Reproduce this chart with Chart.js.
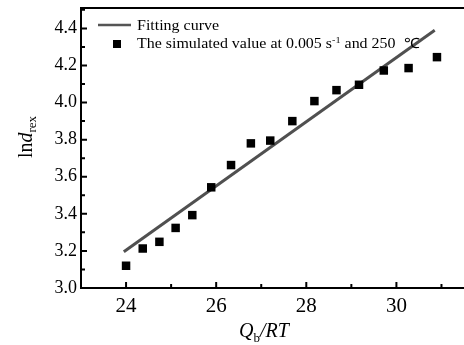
<!DOCTYPE html>
<html>
<head>
<meta charset="utf-8">
<script src="https://cdn.jsdelivr.net/npm/chart.js@4.4.0/dist/chart.umd.min.js"></script>
<style>
html, body { margin: 0; padding: 0; background: #fff; }
#wrap { width: 464px; height: 345px; position: relative; }
</style>
</head>
<body>
<div id="wrap"><canvas id="fitChart"></canvas></div>
<script>
// simulated points (Qb/RT , ln d_rex)
const simX = [24.0, 24.37, 24.74, 25.1, 25.47, 25.89, 26.33, 26.77, 27.2, 27.69, 28.18, 28.67, 29.17, 29.72, 30.27, 30.9];
const simY = [3.12, 3.213, 3.249, 3.324, 3.393, 3.543, 3.663, 3.78, 3.795, 3.90, 4.008, 4.067, 4.096, 4.173, 4.186, 4.245];
// fitting line end points
const fitX = [23.95, 30.85];
const fitY = [3.195, 4.39];
const xTicks = [24, 26, 28, 30];
const yTicks = [3.0, 3.2, 3.4, 3.6, 3.8, 4.0, 4.2, 4.4];
const xMinor = [23, 25, 27, 29, 31];
const yMinor = [3.1, 3.3, 3.5, 3.7, 3.9, 4.1, 4.3, 4.5];
const labels = ['Fitting curve', 'The simulated value at 0.005 s'];

const serif = "'Liberation Serif', 'Times New Roman', serif";

function drawRich(ctx, parts, x, y, align) {
  // parts: [text, font, dy]
  let total = 0;
  parts.forEach(p => { ctx.font = p[1]; total += ctx.measureText(p[0]).width; });
  let cx = align === 'center' ? x - total / 2 : x;
  parts.forEach(p => {
    ctx.font = p[1];
    ctx.fillText(p[0], cx, y + (p[2] || 0));
    cx += ctx.measureText(p[0]).width;
  });
}

const framePlugin = {
  id: 'frame',
  afterDraw(chart) {
    const ctx = chart.ctx;
    const a = chart.chartArea;
    const xs = chart.scales.x, ys = chart.scales.y;
    ctx.save();
    ctx.strokeStyle = '#000';
    ctx.lineWidth = 2;
    ctx.beginPath();
    ctx.moveTo(a.left, a.top); ctx.lineTo(a.right, a.top);
    ctx.moveTo(a.left, a.top - 1); ctx.lineTo(a.left, a.bottom + 1);
    ctx.moveTo(a.left - 1, a.bottom); ctx.lineTo(a.right, a.bottom);
    // ticks, inward
    xTicks.forEach(v => { const px = xs.getPixelForValue(v); ctx.moveTo(px, a.bottom); ctx.lineTo(px, a.bottom - 6); });
    xMinor.forEach(v => { const px = xs.getPixelForValue(v); ctx.moveTo(px, a.bottom); ctx.lineTo(px, a.bottom - 4); });
    yTicks.forEach(v => { const py = ys.getPixelForValue(v); ctx.moveTo(a.left, py); ctx.lineTo(a.left + 6, py); });
    yMinor.forEach(v => { const py = ys.getPixelForValue(v); ctx.moveTo(a.left, py); ctx.lineTo(a.left + 4, py); });
    ctx.stroke();

    // legend
    ctx.strokeStyle = '#555';
    ctx.lineWidth = 2.5;
    ctx.beginPath(); ctx.moveTo(98, 25); ctx.lineTo(131, 25); ctx.stroke();
    ctx.fillStyle = '#000';
    ctx.fillRect(113, 40, 8, 8);
    ctx.textBaseline = 'alphabetic';
    ctx.textAlign = 'left';
    ctx.save();
    ctx.translate(137, 0);
    ctx.scale(1.14, 1);
    drawRich(ctx, [[labels[0], '14px ' + serif]], 0, 30);
    drawRich(ctx, [
      [labels[1], '14px ' + serif],
      ['-1', '9px ' + serif, -5],
      [' and 250  \u2103', '14px ' + serif]
    ], 0, 48);
    ctx.restore();

    // axis titles
    drawRich(ctx, [
      ['Q', 'italic 20px ' + serif],
      ['b', '13px ' + serif, 5],
      ['/RT', 'italic 20px ' + serif]
    ], 264, 337, 'center');

    ctx.translate(32, 137);
    ctx.rotate(-Math.PI / 2);
    drawRich(ctx, [
      ['ln', '20px ' + serif],
      ['d', 'italic 20px ' + serif],
      ['rex', '13px ' + serif, 4]
    ], 0, 0, 'center');
    ctx.restore();
  }
};

const ctx = document.getElementById('fitChart');
new Chart(ctx, {
  type: 'scatter',
  data: {
    datasets: [{
      label: labels[1],
      data: simX.map((x, i) => ({ x: x, y: simY[i] })),
      pointStyle: 'rect',
      pointRadius: 6,
      pointHoverRadius: 6,
      backgroundColor: '#000',
      borderWidth: 0,
      order: 1
    }, {
      type: 'line',
      label: labels[0],
      data: fitX.map((x, i) => ({ x: x, y: fitY[i] })),
      borderColor: '#505050',
      borderWidth: 3,
      pointRadius: 0,
      fill: false,
      order: 2
    }]
  },
  options: {
    responsive: true,
    maintainAspectRatio: false,
    animation: false,
    layout: { autoPadding: false, padding: { top: 8, left: 0, right: 0, bottom: 0 } },
    plugins: { legend: { display: false }, tooltip: { enabled: false } },
    scales: {
      x: {
        type: 'linear',
        min: 23,
        max: 31.5,
        grid: { display: false, drawTicks: false },
        border: { display: false },
        afterBuildTicks: s => { s.ticks = xTicks.map(v => ({ value: v })); },
        afterFit: s => { s.height = 57; s.paddingLeft = 0; s.paddingRight = 0; },
        ticks: { color: '#000', padding: 6, font: { family: serif, size: 21 }, callback: v => String(v) }
      },
      y: {
        min: 3.0,
        max: 4.51,
        grid: { display: false, drawTicks: false },
        border: { display: false },
        afterBuildTicks: s => { s.ticks = yTicks.map(v => ({ value: v })); },
        afterFit: s => { s.width = 81; s.paddingTop = 0; s.paddingBottom = 0; },
        ticks: { color: '#000', padding: 4, font: { family: serif, size: 18 }, callback: v => v.toFixed(1) }
      }
    }
  },
  plugins: [framePlugin]
});
</script>
</body>
</html>
